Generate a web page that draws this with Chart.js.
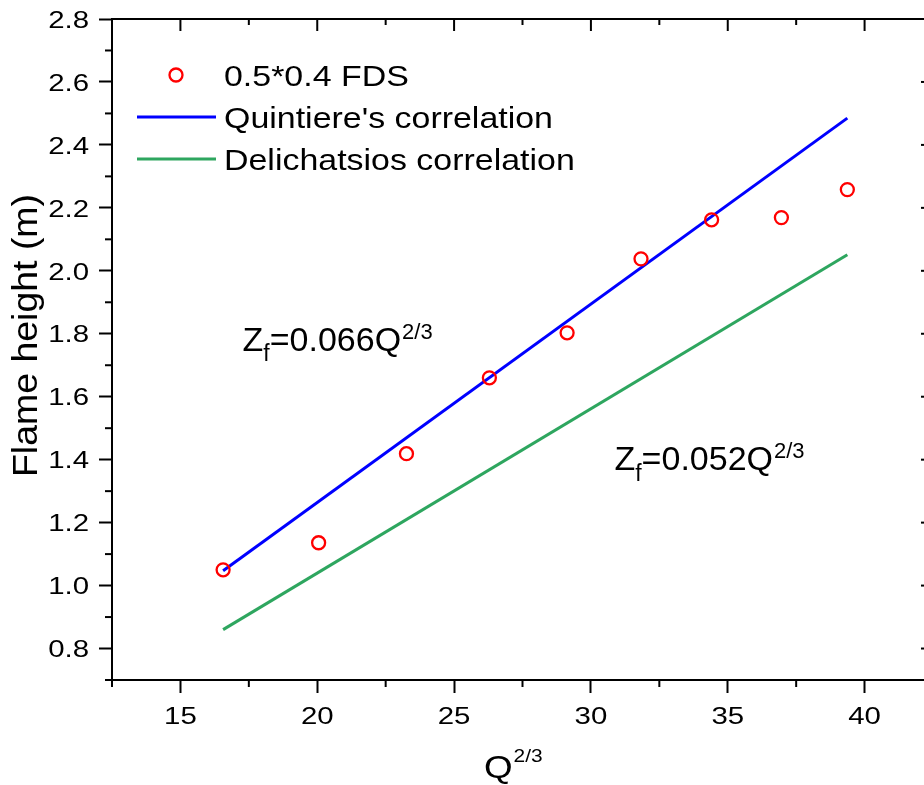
<!DOCTYPE html>
<html>
<head>
<meta charset="utf-8">
<script src="https://cdn.jsdelivr.net/npm/chart.js@4.4.1/dist/chart.umd.min.js"></script>
<style>
html,body{margin:0;padding:0;overflow:hidden;background:#fff;width:924px;height:785px}
#wrap{position:absolute;left:0;top:0;width:950px;height:785px}
canvas{display:block}
</style>
</head>
<body>
<div id="wrap"><canvas id="c" width="950" height="785"></canvas></div>
<script>
// ---- data ----
const qValues = [16.56, 20.05, 23.26, 26.29, 29.13, 31.83, 34.41, 36.96, 39.37];
const fdsHeights = [1.050, 1.136, 1.419, 1.660, 1.803, 2.038, 2.162, 2.169, 2.258];
const corrQ = [16.56, 39.37];
const quintiereHeights = [1.047, 2.485];
const delichatsiosHeights = [0.860, 2.051];

const xTicks = [15, 20, 25, 30, 35, 40];
const xTickLabels = ['15', '20', '25', '30', '35', '40'];
const xMinor = [12.5, 17.5, 22.5, 27.5, 32.5, 37.5, 42.5];
const yTicks = [0.8, 1.0, 1.2, 1.4, 1.6, 1.8, 2.0, 2.2, 2.4, 2.6, 2.8];
const yTickLabels = ['0.8', '1.0', '1.2', '1.4', '1.6', '1.8', '2.0', '2.2', '2.4', '2.6', '2.8'];
const yMinor = [0.7, 0.9, 1.1, 1.3, 1.5, 1.7, 1.9, 2.1, 2.3, 2.5, 2.7];

const seriesLabels = ['0.5*0.4 FDS', "Quintiere's correlation", 'Delichatsios correlation'];
const xTitle = 'Q';
const xTitleSup = '2/3';
const yTitle = 'Flame height (m)';
const annoCoefs = ['0.066', '0.052'];

const FONT = '"Liberation Sans", Arial, Helvetica, sans-serif';
const RED = '#FF0000', BLUE = '#0000FF', GREEN = 'rgb(46,166,95)';

function stext(ctx, str, x, y, size, sx, align) {
  ctx.save();
  ctx.font = size + 'px ' + FONT;
  ctx.textAlign = align || 'left';
  ctx.textBaseline = 'alphabetic';
  ctx.translate(x, y);
  ctx.scale(sx, 1);
  ctx.fillText(str, 0, 0);
  const w = ctx.measureText(str).width * sx;
  ctx.restore();
  return w;
}
function seg(ctx, x1, y1, x2, y2) {
  ctx.beginPath(); ctx.moveTo(x1, y1); ctx.lineTo(x2, y2); ctx.stroke();
}

const decor = {
  id: 'decor',
  afterDraw(chart) {
    const ctx = chart.ctx, ca = chart.chartArea, xs = chart.scales.x, ys = chart.scales.y;
    ctx.save();
    ctx.strokeStyle = '#000';
    ctx.lineWidth = 2;
    ctx.lineCap = 'butt';
    // top and right frame
    seg(ctx, ca.left - 1, ca.top, ca.right + 1, ca.top);
    seg(ctx, ca.right, ca.top, ca.right, ca.bottom + 1);
    // minor ticks outward (left, bottom)
    yMinor.forEach(v => { const p = ys.getPixelForValue(v); seg(ctx, ca.left - 7, p, ca.left, p); });
    xMinor.forEach(v => { const p = xs.getPixelForValue(v); seg(ctx, p, ca.bottom, p, ca.bottom + 7); });
    // mirrored inward ticks on top & right
    xTicks.forEach(v => { const p = xs.getPixelForValue(v); seg(ctx, p, ca.top, p, ca.top + 12); });
    xMinor.forEach(v => { const p = xs.getPixelForValue(v); seg(ctx, p, ca.top, p, ca.top + 6); });
    yTicks.forEach(v => { const p = ys.getPixelForValue(v); seg(ctx, ca.right, p, ca.right - 12, p); });
    yMinor.forEach(v => { const p = ys.getPixelForValue(v); seg(ctx, ca.right, p, ca.right - 6, p); });

    ctx.fillStyle = '#000';
    // tick labels, positioned by the chart scales
    yTicks.forEach((v, i) => {
      const p = ys.getPixelForValue(v);
      stext(ctx, yTickLabels[i], ca.left - 23, p + 8.7, 24.5, 1.2, 'right');
    });
    xTicks.forEach((v, i) => {
      const p = xs.getPixelForValue(v);
      stext(ctx, xTickLabels[i], p, ca.bottom + 43.5, 24.5, 1.2, 'center');
    });

    // legend
    const lx = ca.left, ly = ca.top;
    ctx.strokeStyle = RED; ctx.lineWidth = 2.3;
    ctx.beginPath(); ctx.arc(lx + 64, ly + 56, 6.5, 0, Math.PI * 2); ctx.stroke();
    ctx.lineWidth = 3;
    ctx.strokeStyle = BLUE; seg(ctx, lx + 25, ly + 98, lx + 104, ly + 98);
    ctx.strokeStyle = GREEN; seg(ctx, lx + 25, ly + 140, lx + 104, ly + 140);
    stext(ctx, seriesLabels[0], lx + 112, ly + 67, 29, 1.17);
    stext(ctx, seriesLabels[1], lx + 112, ly + 108.5, 29, 1.17);
    stext(ctx, seriesLabels[2], lx + 112, ly + 151, 29, 1.17);

    // annotations (placed in data coordinates)
    const annoPos = [[17.27, 1.746], [30.86, 1.366]];
    annoCoefs.forEach((c, i) => {
      let x = xs.getPixelForValue(annoPos[i][0]);
      const y = ys.getPixelForValue(annoPos[i][1]);
      x += stext(ctx, 'Z', x, y, 34, 1);
      x += stext(ctx, 'f', x, y + 10.5, 23, 1);
      x += stext(ctx, '=' + c + 'Q', x, y, 34, 1);
      stext(ctx, '2/3', x + 1, y - 12, 22, 1);
    });

    // axis titles
    ctx.save();
    ctx.translate(37, (ca.top + ca.bottom) / 2 - 14);
    ctx.rotate(-Math.PI / 2);
    stext(ctx, yTitle, 0, 0, 35, 1.07, 'center');
    ctx.restore();
    const qx = 484;
    const qw = stext(ctx, xTitle, qx, 778, 32, 1.15);
    stext(ctx, xTitleSup, qx + qw + 1, 762, 19, 1.1);
    ctx.restore();
  }
};

new Chart(document.getElementById('c'), {
  type: 'scatter',
  data: {
    datasets: [
      {
        label: seriesLabels[0],
        data: qValues.map((q, i) => ({ x: q, y: fdsHeights[i] })),
        pointStyle: 'circle', pointRadius: 6.5, pointHoverRadius: 6.5,
        borderColor: RED, borderWidth: 2.3, backgroundColor: 'rgba(0,0,0,0)',
        showLine: false, order: 0
      },
      {
        label: seriesLabels[1],
        data: corrQ.map((q, i) => ({ x: q, y: quintiereHeights[i] })),
        showLine: true, borderColor: BLUE, borderWidth: 3, pointRadius: 0, fill: false, order: 1
      },
      {
        label: seriesLabels[2],
        data: corrQ.map((q, i) => ({ x: q, y: delichatsiosHeights[i] })),
        showLine: true, borderColor: GREEN, borderWidth: 3, pointRadius: 0, fill: false, order: 1
      }
    ]
  },
  options: {
    responsive: false,
    animation: false,
    devicePixelRatio: 1,
    layout: { padding: { top: 19, right: 17, left: 0, bottom: 0 } },
    plugins: { legend: { display: false }, tooltip: { enabled: false } },
    scales: {
      x: {
        type: 'linear', min: 12.5, max: 42.5,
        afterBuildTicks: s => { s.ticks = xTicks.map(v => ({ value: v })); },
        afterFit: s => { s.height = 105; },
        ticks: { display: false, autoSkip: false, maxRotation: 0 },
        grid: { display: true, drawOnChartArea: false, drawTicks: true, tickLength: 13, tickWidth: 2, color: '#000' },
        border: { display: true, width: 2, color: '#000' }
      },
      y: {
        type: 'linear', min: 0.7, max: 2.8,
        afterBuildTicks: s => { s.ticks = yTicks.map(v => ({ value: v })); },
        afterFit: s => { s.width = 112; },
        ticks: { display: false, autoSkip: false },
        grid: { display: true, drawOnChartArea: false, drawTicks: true, tickLength: 13, tickWidth: 2, color: '#000' },
        border: { display: true, width: 2, color: '#000' }
      }
    }
  },
  plugins: [decor]
});
</script>
</body>
</html>
